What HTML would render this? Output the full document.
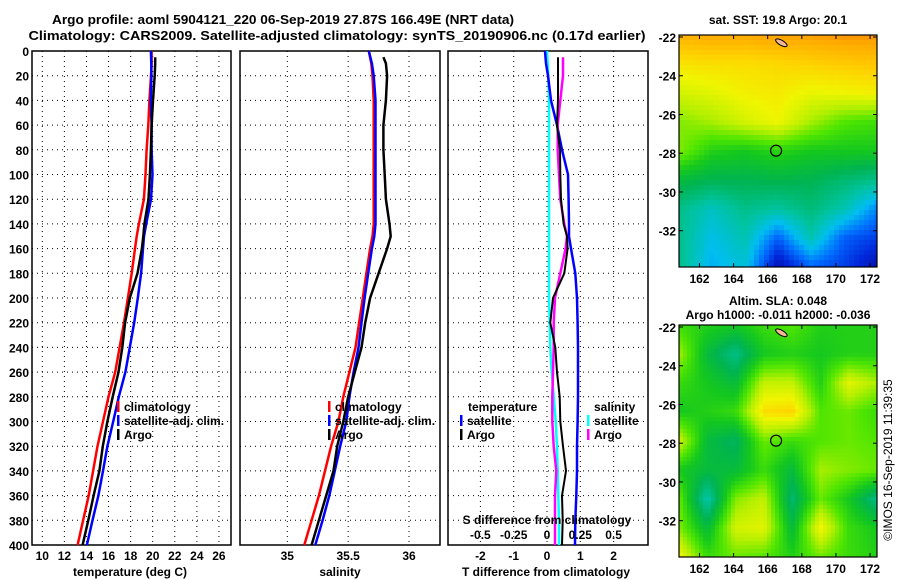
<!DOCTYPE html>
<html><head><meta charset="utf-8">
<style>
html,body{margin:0;padding:0;background:#fff;}
svg{display:block;font-family:"Liberation Sans",Arial,sans-serif;font-weight:bold;}
text{fill:#000;}
</style></head>
<body>
<svg id="fig" width="900" height="580" viewBox="0 0 900 580" xmlns="http://www.w3.org/2000/svg">
<text x="283" y="24" font-size="13" text-anchor="middle" textLength="462" lengthAdjust="spacingAndGlyphs">Argo profile: aoml 5904121_220 06-Sep-2019 27.87S 166.49E (NRT data)</text>
<text x="337" y="40" font-size="13" text-anchor="middle" textLength="617" lengthAdjust="spacingAndGlyphs">Climatology: CARS2009. Satellite-adjusted climatology: synTS_20190906.nc (0.17d earlier)</text>
<g id="p1"></g>
<g id="p2"></g>
<g id="p3"></g>
<g id="m1"></g>
<g id="m2"></g>
<text x="892" y="460" font-size="12" font-weight="normal" text-anchor="middle" transform="rotate(-90 892 460)">©IMOS 16-Sep-2019 11:39:35</text>
</svg>
<script>
const depths = [0,10,20,40,60,80,100,120,140,150,160,180,200,220,240,260,280,300,320,340,360,380,400];
const tClim = [19.9,19.9,19.85,19.7,19.6,19.45,19.35,19.2,18.75,18.55,18.4,18.1,17.75,17.4,17.0,16.6,16.0,15.5,15.0,14.6,14.2,13.7,13.2];
const tSatDiff = [-0.06,-0.03,0.03,0.12,0.3,0.45,0.63,0.65,0.66,0.66,0.72,0.85,0.9,0.92,0.93,0.93,0.93,0.92,0.9,0.9,0.88,0.85,0.84];
const tArgoDiff = [0.33,0.33,0.33,0.33,0.3,0.39,0.4,0.42,0.5,0.6,0.62,0.52,0.18,0.1,0.25,0.3,0.38,0.4,0.48,0.57,0.45,0.47,0.45];
const sClim = [35.67,35.69,35.70,35.71,35.71,35.71,35.71,35.71,35.71,35.70,35.68,35.65,35.62,35.59,35.56,35.51,35.46,35.42,35.36,35.31,35.26,35.20,35.14];
const sSatDiff = [0,0.005,0.01,0.015,0.015,0.015,0.015,0.015,0.015,0.015,0.015,0.015,0.015,0.02,0.025,0.035,0.05,0.065,0.075,0.08,0.085,0.09,0.09];
const sArgoDiff = [0.12,0.12,0.12,0.1,0.08,0.08,0.09,0.1,0.13,0.15,0.14,0.1,0.06,0.05,0.05,0.045,0.04,0.04,0.05,0.07,0.06,0.06,0.06];
const depthTicks = [0,20,40,60,80,100,120,140,160,180,200,220,240,260,280,300,320,340,360,380,400];
const tTicks = [10,12,14,16,18,20,22,24,26];
const sTicks = [35,35.5,36];
const sTickLabels = ["35","35.5","36"];
const dTTicks = [-2,-1,0,1,2];
const dSTicks = [-0.5,-0.25,0,0.25,0.5];
const dSTickLabels = ["-0.5","-0.25","0","0.25","0.5"];
const sstField = [
[.95,.96,.96,.97,.97,.98,.98],
[.87,.88,.88,.89,.9,.91,.92],
[.8,.82,.85,.86,.83,.84,.85],
[.72,.75,.8,.84,.75,.68,.66],
[.72,.62,.6,.63,.6,.6,.6],
[.55,.52,.52,.53,.52,.48,.45],
[.45,.38,.45,.42,.47,.4,.25],
[.45,.33,.4,.2,.4,.2,.15],
[.45,.3,.35,.05,.2,.15,.05]];
const slaField = [
[.65,.62,.6,.65,.68,.62,.62,.62],
[.75,.55,.45,.6,.62,.6,.62,.62],
[.65,.6,.55,.78,.78,.62,.82,.75],
[.6,.62,.65,.88,.9,.68,.7,.65],
[.8,.55,.5,.7,.65,.68,.7,.68],
[.6,.55,.55,.65,.55,.75,.72,.7],
[.7,.4,.72,.78,.48,.7,.6,.45],
[.72,.55,.8,.82,.55,.85,.65,.6],
[.85,.65,.7,.68,.62,.7,.65,.62]];
const lonTicks = [162,164,166,168,170,172];
const latTicks = [-22,-24,-26,-28,-30,-32];
const argoLon = 166.49, argoLat = -27.87;

const NS = "http://www.w3.org/2000/svg";
function mk(parent, tag, attrs, txt){
  const e = document.createElementNS(NS, tag);
  for (const k in attrs) e.setAttribute(k, attrs[k]);
  if (txt !== undefined) e.textContent = txt;
  parent.appendChild(e); return e;
}
const Y0 = 51, Y1 = 545;
const yD = d => Y0 + d * (Y1 - Y0) / 400;
const xT = t => 42.3 + (t - 10) * 11.04;
const xS = s => 287.3 + (s - 35) * 121.7;
const xDT = v => 547 + v * 33.3;
const xDS = v => 547 + v * 133.2;

function frame(g, x0, x1, vgrid){
  depthTicks.forEach(d => {
    if (d === 0 || d === 400) return;
    const l = mk(g,'line',{x1:x0,x2:x1,y1:yD(d),y2:yD(d),stroke:'#000','stroke-width':1,'stroke-dasharray':'1 4'});
    
    
  });
  vgrid.forEach(x => {
    const l = mk(g,'line',{x1:x,x2:x,y1:Y0,y2:Y1,stroke:'#000','stroke-width':1,'stroke-dasharray':'1 4'});
    
    
  });
  const r = mk(g,'rect',{x:x0,y:Y0,width:x1-x0,height:Y1-Y0,fill:'none',stroke:'#000','stroke-width':1.5});
  
  
}
function line(g, xs, ys, color, w, name){
  const pts = xs.map((x,i)=>x.toFixed(1)+','+ys[i].toFixed(1)).join(' ');
  const p = mk(g,'polyline',{points:pts,fill:'none',stroke:color,'stroke-width':w,'stroke-linejoin':'round'});
  
  
}
function legendEntry(g, x, y, color, label){
  const r = mk(g,'rect',{x:x,y:y-10,width:2.5,height:11,fill:color});
  
  
  const t = mk(g,'text',{x:x+7,y:y,'font-size':12}, label);
  
  
}
const ys = depths.map(yD);

const p1 = document.getElementById('p1');
frame(p1, 32, 231, tTicks.map(xT));
depthTicks.forEach(d => {
  const t = mk(p1,'text',{x:29,y:yD(d)+5,'font-size':12,'text-anchor':'end'}, String(d));
  
  
});
tTicks.forEach(v => {
  const t = mk(p1,'text',{x:xT(v),y:560,'font-size':12,'text-anchor':'middle'}, String(v));
  
  
});
{ const t = mk(p1,'text',{x:130,y:576,'font-size':12,'text-anchor':'middle'},'temperature (deg C)');
    }
line(p1, tClim.map(xT), ys, '#ff0000', 2.5, 'temperature-climatology-line');
line(p1, tClim.map((v,i)=>xT(v+tSatDiff[i])), ys, '#0000ff', 2.5, 'temperature-satellite-line');
line(p1, tClim.map((v,i)=>xT(v+tArgoDiff[i])), ys.map((y,i)=>i===0?yD(5):y), '#000000', 2.5, 'temperature-argo-line');
legendEntry(p1, 117, 411, '#ff0000', 'climatology');
legendEntry(p1, 117, 425, '#0000ff', 'satellite-adj. clim.');
legendEntry(p1, 117, 439, '#000000', 'Argo');

const p2 = document.getElementById('p2');
frame(p2, 240, 440, sTicks.map(xS));
sTicks.forEach((v,i) => {
  const t = mk(p2,'text',{x:xS(v),y:560,'font-size':12,'text-anchor':'middle'}, sTickLabels[i]);
  
  
});
{ const t = mk(p2,'text',{x:340,y:576,'font-size':12,'text-anchor':'middle'},'salinity');
    }
line(p2, sClim.map(xS), ys, '#ff0000', 2.5, 'salinity-climatology-line');
line(p2, sClim.map((v,i)=>xS(v+sSatDiff[i])), ys, '#0000ff', 2.5, 'salinity-satellite-line');
line(p2, sClim.map((v,i)=>xS(v+sArgoDiff[i])), ys.map((y,i)=>i===0?yD(5):y), '#000000', 2.5, 'salinity-argo-line');
legendEntry(p2, 328, 411, '#ff0000', 'climatology');
legendEntry(p2, 328, 425, '#0000ff', 'satellite-adj. clim.');
legendEntry(p2, 328, 439, '#000000', 'Argo');

const p3 = document.getElementById('p3');
frame(p3, 448, 648, dTTicks.map(xDT));
dTTicks.forEach(v => {
  const t = mk(p3,'text',{x:xDT(v),y:560,'font-size':12,'text-anchor':'middle'}, String(v));
  
  
});
{ const t = mk(p3,'text',{x:546,y:576,'font-size':12,'text-anchor':'middle'},'T difference from climatology');
    }
line(p3, sSatDiff.map(xDS), ys, '#00ffff', 2.5, 's-diff-satellite-line');
line(p3, tSatDiff.map(xDT), ys, '#0000ff', 2.5, 't-diff-satellite-line');
line(p3, sArgoDiff.map(xDS), ys.map((y,i)=>i===0?yD(5):y), '#ff00ff', 2.5, 's-diff-argo-line');
line(p3, tArgoDiff.map(xDT), ys.map((y,i)=>i===0?yD(5):y), '#000000', 2, 't-diff-argo-line');
{ const t = mk(p3,'text',{x:547,y:524,'font-size':12,'text-anchor':'middle'},'S difference from climatology');
    }
dSTicks.forEach((v,i) => {
  const t = mk(p3,'text',{x:xDS(v),y:539,'font-size':12,'text-anchor':'middle'}, dSTickLabels[i]);
  
  
});
{ const t = mk(p3,'text',{x:468,y:411,'font-size':12},'temperature');
   
  const t2 = mk(p3,'text',{x:594,y:411,'font-size':12},'salinity');
    }
legendEntry(p3, 460, 425, '#0000ff', 'satellite');
legendEntry(p3, 460, 439, '#000000', 'Argo');
legendEntry(p3, 587, 425, '#00ffff', 'satellite');
legendEntry(p3, 587, 439, '#ff00ff', 'Argo');

const stops = [[0,[0,0,140]],[0.12,[0,40,220]],[0.22,[0,110,255]],[0.32,[0,190,240]],[0.42,[0,195,160]],[0.52,[0,180,80]],[0.6,[20,200,30]],[0.68,[80,230,0]],[0.76,[180,240,0]],[0.84,[240,245,0]],[0.9,[255,210,0]],[0.96,[255,170,0]],[1,[240,120,0]]];
function col(v){
  v = Math.max(0, Math.min(1, v));
  for (let i=1;i<stops.length;i++){
    if (v <= stops[i][0]){
      const a = stops[i-1], b = stops[i], f = (v-a[0])/(b[0]-a[0]);
      const c = a[1].map((x,k)=>Math.round(x + (b[1][k]-x)*f));
      return 'rgb('+c.join(',')+')';
    }
  }
  return 'rgb(240,120,0)';
}
const MX0 = 679, MX1 = 877, LON0 = 160.8;
const lonX = lon => MX0 + (lon - LON0) * 17.06;
function drawMap(g, top, field, cell, title1, title2){
  const bot = top + 232;
  const latY = lat => top + 2 + (-22 - lat) * 19.37;
  const rows = field.length, cols = field[0].length;
  const W = MX1 - MX0, H = bot - top;
  for (let y = 0; y < H; y += cell){
    for (let x = 0; x < W; x += cell){
      const fy = (y + cell/2) / H * (rows - 1), fx = (x + cell/2) / W * (cols - 1);
      const r0 = Math.floor(fy), c0 = Math.floor(fx);
      const r1 = Math.min(rows-1, r0+1), c1 = Math.min(cols-1, c0+1);
      const ty = fy - r0, tx = fx - c0;
      const v = field[r0][c0]*(1-tx)*(1-ty) + field[r0][c1]*tx*(1-ty) + field[r1][c0]*(1-tx)*ty + field[r1][c1]*tx*ty;
      mk(g,'rect',{x:MX0+x,y:top+y,width:Math.min(cell,W-x)+0.3,height:Math.min(cell,H-y)+0.3,fill:col(v)});
    }
  }
  const ix = lonX(166.8), iy = latY(-22.3);
  const isl = mk(g,'ellipse',{cx:ix,cy:iy,rx:6.5,ry:2.5,fill:'#f5b896',stroke:'#000','stroke-width':1,transform:'rotate(30 '+ix+' '+iy+')'});
  
  
  const c = mk(g,'circle',{cx:lonX(argoLon),cy:latY(argoLat),r:5.5,fill:'none',stroke:'#000','stroke-width':1.2});
  
  
  const fr = mk(g,'rect',{x:MX0,y:top,width:W,height:H,fill:'none',stroke:'#000','stroke-width':1.2});
  
  
  lonTicks.forEach(l => {
    mk(g,'line',{x1:lonX(l),x2:lonX(l),y1:top,y2:top+4,stroke:'#000'});
    mk(g,'line',{x1:lonX(l),x2:lonX(l),y1:bot,y2:bot-4,stroke:'#000'});
    const t = mk(g,'text',{x:lonX(l),y:bot+16,'font-size':12,'text-anchor':'middle'}, String(l));
    
    
  });
  latTicks.forEach(l => {
    mk(g,'line',{x1:MX0,x2:MX0+4,y1:latY(l),y2:latY(l),stroke:'#000'});
    mk(g,'line',{x1:MX1,x2:MX1-4,y1:latY(l),y2:latY(l),stroke:'#000'});
    const t = mk(g,'text',{x:676,y:latY(l)+5,'font-size':12,'text-anchor':'end'}, String(l));
    
    
  });
  if (title1){ const t = mk(g,'text',{x:778,y:title2?top-20:top-11,'font-size':12,'text-anchor':'middle'}, title1);
      }
  if (title2){ const t = mk(g,'text',{x:778,y:top-6,'font-size':12,'text-anchor':'middle'}, title2);
      }
}
drawMap(document.getElementById('m1'), 35, sstField, 5, 'sat. SST: 19.8 Argo: 20.1');
drawMap(document.getElementById('m2'), 325, slaField, 4, 'Altim. SLA: 0.048', 'Argo h1000: -0.011 h2000: -0.036');
</script>
</body></html>
